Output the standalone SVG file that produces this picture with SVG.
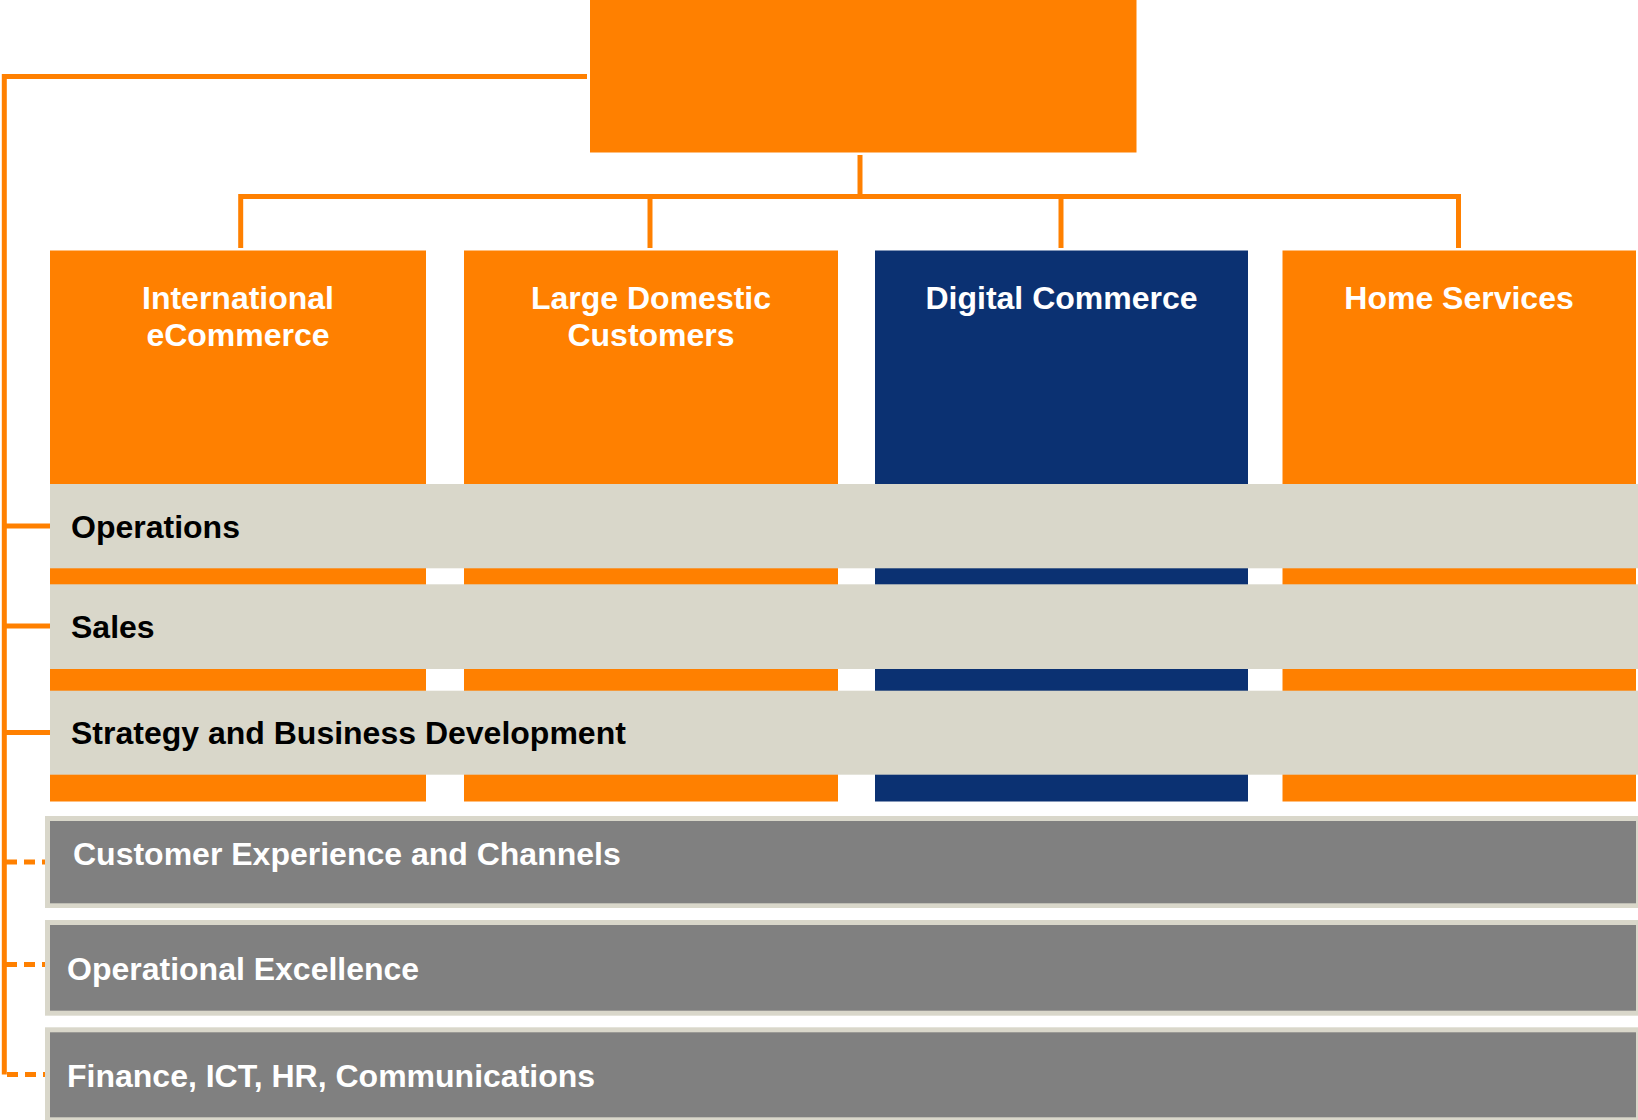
<svg xmlns="http://www.w3.org/2000/svg" width="1638" height="1120" viewBox="0 0 1638 1120">
<style>
.org{fill:#FF8000}
.navy{fill:#0B3172}
.band{fill:#D9D7CA}
.dark{fill:#808080}
.conn{stroke:#FF8000;stroke-width:5;fill:none}
.dash{stroke:#FF8000;stroke-width:5;fill:none;stroke-dasharray:11 7}
text{font-family:"Liberation Sans",Arial,sans-serif;font-weight:bold;font-size:32px}
.w{fill:#FFFFFF}
.b{fill:#000000}
</style>
<rect x="0" y="0" width="1638" height="1120" fill="#FFFFFF"/>
<g id="connectors">
  <path class="conn" d="M587,76.5 H4.3 V1074.5"/>
  <path class="conn" d="M860,155 V196.5"/>
  <path class="conn" d="M240.7,248 V196.5 H1458.5 V248"/>
  <path class="conn" d="M650,196.5 V248"/>
  <path class="conn" d="M1061,196.5 V248"/>
  <path class="conn" d="M4.3,526 H50"/>
  <path class="conn" d="M4.3,626 H50"/>
  <path class="conn" d="M4.3,732.5 H50"/>
  <path class="dash" d="M6,862 H47"/>
  <path class="dash" d="M6,964.5 H45"/>
  <path class="dash" d="M7,1074.5 H52"/>
</g>
<g id="top">
  <rect class="org" x="590" y="0" width="546.5" height="152.5"/>
</g>
<g id="col-international">
  <rect class="org" x="50" y="250.5" width="376" height="551"/>
  <text class="w" x="238" y="309" text-anchor="middle">International</text>
  <text class="w" x="238" y="346" text-anchor="middle">eCommerce</text>
</g>
<g id="col-large-domestic">
  <rect class="org" x="464" y="250.5" width="374" height="551"/>
  <text class="w" x="651" y="309" text-anchor="middle">Large Domestic</text>
  <text class="w" x="651" y="346" text-anchor="middle">Customers</text>
</g>
<g id="col-digital">
  <rect class="navy" x="875" y="250.5" width="373" height="551"/>
  <text class="w" x="1061.5" y="309" text-anchor="middle">Digital Commerce</text>
</g>
<g id="col-home">
  <rect class="org" x="1282.5" y="250.5" width="353.5" height="551"/>
  <text class="w" x="1459" y="309" text-anchor="middle">Home Services</text>
</g>
<g id="operations">
  <rect class="band" x="50" y="484" width="1588" height="84.3"/>
  <text class="b" x="71" y="538">Operations</text>
</g>
<g id="sales">
  <rect class="band" x="50" y="584.3" width="1588" height="84.7"/>
  <text class="b" x="71" y="638">Sales</text>
</g>
<g id="strategy">
  <rect class="band" x="50" y="690.7" width="1588" height="84"/>
  <text class="b" x="71" y="744">Strategy and Business Development</text>
</g>
<g id="customer-experience">
  <rect class="band" x="45" y="816" width="1593" height="92"/>
  <rect class="dark" x="50" y="821" width="1586" height="82.3"/>
  <text class="w" x="73" y="865">Customer Experience and Channels</text>
</g>
<g id="operational-excellence">
  <rect class="band" x="45" y="920" width="1593" height="95.7"/>
  <rect class="dark" x="50" y="925" width="1586" height="85.7"/>
  <text class="w" x="67" y="980">Operational Excellence</text>
</g>
<g id="finance">
  <rect class="band" x="45" y="1027.3" width="1593" height="92.7"/>
  <rect class="dark" x="50" y="1032.3" width="1586" height="85"/>
  <text class="w" x="67" y="1087">Finance, ICT, HR, Communications</text>
</g>
</svg>
